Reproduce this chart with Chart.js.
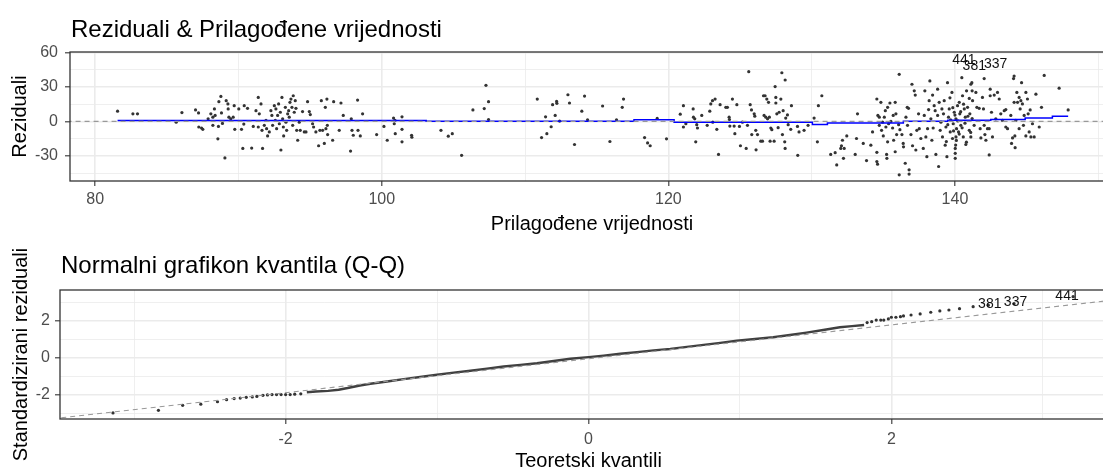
<!DOCTYPE html>
<html>
<head>
<meta charset="utf-8">
<title>Reziduali i Q-Q</title>
<script src="https://cdn.jsdelivr.net/npm/chart.js@4.4.1/dist/chart.umd.min.js"></script>
<style>
  html, body { margin: 0; padding: 0; background: #fff; width: 1103px; height: 469px; overflow: hidden; }
  canvas { position: absolute; left: 0; }
  #residChart { top: 0; }
  #qqChart { top: 240px; }
</style>
</head>
<body>
<canvas id="residChart" width="1130" height="240"></canvas>
<canvas id="qqChart" width="1130" height="232"></canvas>
<script>
const FONT = "'Liberation Sans', Arial, sans-serif";

// --- gornji panel: reziduali prema prilagodenim vrijednostima ---
const fittedValues = [
  81.56, 82.63, 82.95, 85.65, 86.05, 87.0, 87.21, 87.23, 87.42, 87.51,
  87.88, 88.07, 88.21, 88.32, 88.37, 88.56, 88.63, 88.77, 88.81, 88.21,
  88.6, 88.88, 89.05, 89.14, 89.26, 89.28, 89.33, 89.46, 89.63, 89.7,
  89.74, 90.02, 90.21, 90.3, 90.37, 90.4, 90.63,
  90.92, 91.03, 91.22, 91.38, 91.38, 91.45, 91.57, 91.64, 91.68, 91.8,
  91.92, 91.96, 92.03, 92.15, 92.26, 92.33, 92.38, 92.5, 92.57, 92.61,
  92.66, 92.73, 92.8, 92.85, 92.92, 92.96, 93.03, 93.08, 93.13, 93.15,
  93.27, 93.31, 93.36, 93.43, 93.5, 93.54, 93.59, 93.66, 93.73, 93.78,
  93.82, 93.89, 93.96, 94.01, 94.06, 94.13, 94.24, 94.31, 94.47, 94.59,
  94.71, 94.82, 94.94, 95.01, 95.17, 95.24, 95.4, 95.59, 95.68, 95.78,
  95.87, 95.99, 96.06, 96.1, 96.17, 96.2, 96.22, 96.57, 96.64, 97.03,
  97.15, 97.31, 97.82, 97.87, 97.92, 98.01, 98.31, 98.34, 98.5, 98.66,
  99.64, 100.15, 100.38, 100.82, 100.87, 100.92, 100.94, 101.41, 101.41, 101.41,
  102.08, 102.1,
  104.13, 104.64, 104.92, 105.57, 106.36, 107.15, 107.27, 107.45, 107.45, 110.85,
  111.15, 111.43, 111.52, 111.82, 111.92, 112.1, 112.2, 112.22, 112.41, 112.99,
  113.1, 113.45, 113.96, 114.15, 114.36, 115.41, 115.92, 116.38, 116.78, 116.87,
  118.34, 118.55, 118.73, 119.22, 119.87, 120.83,
  121.05, 121.05, 121.22, 121.73, 121.75, 121.84, 121.91, 121.98, 122.03, 122.33,
  122.71, 122.89, 122.96, 123.08, 123.1, 123.26, 123.38, 123.5, 123.61, 124.01,
  124.12, 124.24, 124.26, 124.29, 124.47, 124.59, 124.64, 124.78, 124.96, 125.03,
  125.17, 125.43, 125.52, 125.61, 125.71, 125.8, 125.82, 125.99, 126.03, 126.1,
  126.12, 126.22, 126.45, 126.57, 126.64, 126.75, 126.68, 126.8, 126.87, 126.92,
  126.99, 127.05, 127.1, 127.15, 127.22, 127.38, 127.45, 127.5, 127.5, 127.57,
  127.66, 127.73, 127.85, 127.92, 127.96, 128.01, 128.12, 128.15, 128.15, 128.19,
  128.31, 128.36, 128.54, 128.59, 129.01, 129.03, 129.12, 129.47, 129.75, 130.17,
  130.4, 130.47, 130.71, 131.33, 131.64, 131.75, 132.03, 132.08, 132.15, 132.22,
  132.27, 132.45,
  133.04, 133.13, 133.2, 133.6, 133.83, 134.13, 134.25, 134.55, 134.6, 134.55,
  134.55, 134.62, 134.72, 134.72, 134.83, 134.88, 134.95, 135.0, 135.07, 135.14,
  135.18, 135.23, 135.25, 135.3, 135.3, 135.37, 135.46, 135.53, 135.65, 135.69,
  135.72, 135.83, 135.83, 135.88, 135.93, 136.07, 136.11, 136.11, 136.16, 136.3,
  136.39, 136.41, 136.53, 136.58, 136.67, 136.76, 136.69, 136.8, 136.8, 136.93,
  137.0, 137.04, 137.16, 137.23, 137.27, 137.34, 137.46, 137.51, 137.62, 137.79,
  137.86, 137.9, 137.97, 138.04, 138.09, 138.16, 138.2, 138.25, 138.32, 138.39,
  138.44, 138.48, 138.55, 138.62, 138.67, 138.79, 138.79, 138.86, 138.9, 138.97,
  139.02, 139.09, 139.13, 139.2, 139.25, 139.32, 139.37, 139.44, 139.48, 139.55,
  139.6, 139.67, 139.79, 139.83, 139.88, 139.95, 140.02, 140.02, 140.02, 140.07,
  140.07, 140.11, 140.18, 140.25, 140.3, 140.34, 140.41, 140.48, 140.53, 140.58,
  140.65, 140.72, 140.76, 140.81, 140.88, 141.0, 141.04, 141.11, 141.18, 141.23,
  141.34, 139.5, 139.7, 139.9, 140.0, 140.1, 140.2, 140.3, 140.4, 140.5,
  140.6, 140.7, 140.8, 140.9, 141.0, 141.1, 141.2, 140.05, 139.85, 139.65,
  139.4,
  141.11, 141.2, 141.46, 141.53, 141.69, 141.76, 141.81, 141.92, 141.99, 142.04,
  142.04, 142.09, 142.16, 142.27, 142.39, 142.39, 142.46, 142.46, 142.55, 142.62,
  142.74, 142.85, 142.97, 143.09, 143.2, 143.32, 143.44, 143.55, 143.55, 143.67,
  143.9, 143.95, 144.02, 144.09, 144.13, 144.13, 144.18, 144.2, 144.25, 144.32,
  144.37, 144.48, 144.48, 144.55, 144.6, 144.65, 144.71, 144.78, 144.83, 144.95,
  144.95, 145.06, 145.11, 145.18, 145.25, 145.3, 145.41, 145.53, 145.65, 145.88,
  146.04, 146.23, 147.27, 147.9
];
const residuals = [
  8.9, 6.6, 6.6, -0.6, 7.7, 10.0, 7.4, -4.8, -5.7, -6.8,
  2.3, 6.6, 3.7, 10.9, 5.2, -15.1, 17.2, 21.7, 7.4, -3.4,
  -4.3, -1.7, -31.7, 18.0, 15.2, 10.9, 3.7, 2.3, 3.7, 13.7,
  -6.8, 10.9, -6.8, -23.4, -2.3, 13.7, 11.4,
  -23.1, -4.3, 9.4, 20.9, -4.8, 6.6, 15.2, -7.7, -23.4, -3.4,
  0.9, -6.3, -12.6, -9.1, 9.4, 5.2, -3.4, 13.7, 0.9, 10.9,
  -6.3, 5.2, 15.2, -2.0, 8.0, -24.8, 20.9, 2.3, -4.8, -12.6,
  12.3, -0.6, -7.7, 6.6, 9.4, 3.7, 16.6, 19.4, 12.3, -3.4,
  22.3, 8.0, 18.0, 11.4, -7.7, -16.3, -0.6, -7.7, 8.6, -9.1,
  -9.1, 17.2, 8.6, 6.0, -2.0, -4.8, -9.1, -21.1, -7.7, 18.0,
  -7.7, -19.1, 12.3, -6.3, 19.4, -3.4, -11.4, -16.3, 17.2, -7.7,
  16.0, 5.2, -25.7, 2.3, -7.7, -12.0, 18.6, -7.7, -12.6, 6.6,
  -11.4, -4.3, -16.3, 2.9, -2.0, 0.9, -10.6, 4.0, -6.8, -17.7,
  -12.0, -13.7,
  -7.7, -12.8, -10.6, -29.4, 10.0, 11.2, 31.4, 17.2, 1.7, 19.4,
  -14.0, 4.0, -10.6, -4.6, 14.6, 5.2, 17.4, 15.7, 0.3, 23.2,
  16.0, -20.0, 8.9, 22.0, 1.4, 13.4, -17.4, 1.4, 12.3, 19.4,
  -14.0, -18.6, -21.1, 2.6, -15.1, 6.3,
  13.7, -4.8, -2.0, 10.9, 3.7, 2.3, -17.7, -2.8, -5.7, 5.2,
  -3.4, 8.9, 15.2, 18.0, -0.6, 19.4, -6.8, -28.6, 14.6, 12.3,
  12.3, 3.7, 1.7, -4.0, 19.4, -4.0, -10.6, 14.6, -4.3, -21.1,
  -0.6, -23.4, -3.4, 43.2, 14.6, 10.0, -11.4, 6.6, 4.6, -7.7,
  -24.6, -11.4, -17.1, -17.1, 22.3, 22.3, 5.2, 3.7, 19.4, 2.3,
  16.6, 3.7, -17.1, -5.7, -7.1, -17.1, 30.3, 20.9, 16.0, 6.6,
  -5.4, 8.0, 19.4, 42.3, -11.4, 9.4, -17.7, 36.0, -23.4, 2.9,
  5.7, -2.8, -6.8, 13.7, -4.3, -29.4, -9.1, -7.7, -3.4, 2.9,
  -17.7, 13.7, 22.3, -28.6, -27.1, -37.7, -23.4, -21.1, -16.3, -32.0,
  -23.4, -12.6,
  -28.6, -14.8, 6.6, -19.1, -34.0, -20.6, -9.1, -34.8, -37.1, 19.5,
  -26.8, 5.2, 3.7, -3.4, 16.6, -7.7, -0.6, -12.6, 3.7, 9.4,
  -4.8, -28.6, -32.0, 12.3, -17.7, -2.0, 16.0, 0.0, -5.7, 5.2,
  -16.3, 16.6, -26.3, 6.6, -11.4, -2.8, -46.3, 40.9, -7.1, -11.4,
  -19.1, -22.0, -36.3, 3.7, 12.3, 11.4, -3.4, -45.7, -42.0, -11.4,
  32.3, -21.1, 26.6, 22.9, -24.8, -7.7, 6.6, -6.3, -14.8, -23.4,
  5.2, 26.6, -13.4, -30.6, -6.3, 10.3, 18.0, 35.2, 2.3, -16.3,
  22.9, -5.7, 13.7, 9.4, -28.6, 28.0, 5.2, -39.1, 16.6, -7.7,
  -0.6, 10.9, -13.4, 6.6, 18.0, -20.6, -4.8, -30.6, 33.7, 3.7,
  10.9, -9.1, 25.2, -14.8, -2.0, 8.0, -23.4, -27.7, -32.0, 2.3,
  -13.4, -6.3, 13.7, -9.1, 16.6, 6.6, -3.4, 38.0, 22.3, -13.4,
  10.9, 3.7, -20.0, 26.6, 12.3, -7.7, 6.6, -13.4, 33.7, 18.0,
  -3.4, -2.8, 1.4, -8.2, 5.5, -16.5, 0.5, -11.0, 8.5, -5.5,
  15.0, -1.5, -18.0, 4.5, 20.0, -9.5, 2.5, -20.5, 12.0, 20.5,
  -17.5,
  32.3, 26.6, 25.2, 12.3, 11.4, -6.3, -14.3, 20.9, 10.9, 37.2,
  -3.4, -11.4, -16.3, -6.3, -6.3, -29.1, 28.0, 22.3, 8.0, -13.4,
  22.9, 2.3, 25.2, 19.5, 6.6, 0.9, 9.4, 10.3, -4.8, -6.3,
  5.2, -19.1, -14.3, 37.2, 39.4, 16.6, -12.6, -22.8, 0.9, 25.2,
  16.6, 20.9, -6.3, 10.9, 18.0, 33.7, 15.2, -3.4, 5.2, 25.2,
  -12.6, 19.5, 6.6, -9.1, 10.0, -13.4, -2.0, -13.4, 23.7, -4.8,
  12.3, 40.0, 28.9, 10.0
];
const smoothX = [81.56, 103.1, 103.1, 117.6, 117.6, 120.4, 120.4, 130.05, 130.05, 131.1, 131.1,
  136.4, 136.4, 139.5, 139.5, 142.5, 142.5, 144.9, 144.9, 146.8, 146.8, 147.9];
const smoothY = [0.9, 0.9, 0.1, 0.1, 1.4, 1.4, -0.6, -0.6, -2.6, -2.6, -1.3,
  -1.3, 0.2, 0.2, 1.0, 1.0, 1.8, 1.8, 3.1, 3.1, 4.6, 4.6];
const zeroLineX = [78, 152];
const zeroLineY = [0, 0];
const residGridX = [80, 90, 100, 110, 120, 130, 140, 150];
const residTickX = [80, 100, 120, 140];
const residGridY = [-45, -30, -15, 0, 15, 30, 45, 60];
const residTickY = [-30, 0, 30, 60];

const pointIds = ["441", "381", "337"];
const residLabelX = [140.62, 141.35, 142.84];
const residLabelY = [52.9, 47.7, 49.4];

// --- donji panel: normalni Q-Q ---
const qqBandX = [-1.86, -1.8, -1.72, -1.65, -1.59, -1.51, -1.44, -1.33, -1.22, -1.1,
  -1.0, -0.89, -0.78, -0.67, -0.56, -0.45, -0.34, -0.23, -0.12, 0.0,
  0.1, 0.21, 0.32, 0.43, 0.54, 0.65, 0.76, 0.87, 0.98, 1.1,
  1.22, 1.33, 1.44, 1.55, 1.66, 1.74, 1.82];
const qqBandY = [-1.86, -1.82, -1.78, -1.72, -1.63, -1.49, -1.4, -1.28, -1.15, -1.02,
  -0.91, -0.8, -0.7, -0.58, -0.47, -0.38, -0.29, -0.17, -0.05, 0.04,
  0.12, 0.22, 0.31, 0.4, 0.48, 0.59, 0.7, 0.81, 0.93, 1.02,
  1.11, 1.23, 1.36, 1.5, 1.65, 1.71, 1.77];
const qqTailX = [-3.14, -2.84, -2.68, -2.56, -2.45, -2.39, -2.34, -2.3, -2.26, -2.22,
  -2.19, -2.15, -2.12, -2.09, -2.06, -2.03, -2.0, -1.97, -1.94, -1.9,
  1.84, 1.87, 1.9, 1.93, 1.95, 1.98, 2.0, 2.03, 2.06, 2.08,
  2.13, 2.19, 2.26, 2.32, 2.38, 2.45, 2.54, 2.64, 2.81, 3.2];
const qqTailY = [-2.97, -2.83, -2.56, -2.5, -2.37, -2.26, -2.2, -2.17, -2.13, -2.11,
  -2.08, -2.02, -2.0, -1.98, -1.98, -1.98, -1.98, -1.98, -1.96, -1.94,
  1.9, 1.95, 2.04, 2.04, 2.04, 2.1, 2.19, 2.19, 2.22, 2.26,
  2.31, 2.37, 2.46, 2.53, 2.58, 2.65, 2.76, 2.84, 2.92, 3.3];
const qqLineX = [-3.6, 3.6];
const qqLineY = [-3.34, 3.24];
const qqGrid = [-3, -2, -1, 0, 1, 2, 3];
const qqTicks = [-2, 0, 2];
const qqLabelX = [3.16, 2.65, 2.82];
const qqLabelY = [3.33, 2.9, 2.98];

function toPoints(xs, ys) {
  return xs.map((x, i) => ({ x, y: ys[i] }));
}

function makeAxis({ min, max, grid, major, title, size, tickPad, titlePad, vertical }) {
  const isMajor = ctx => ctx.tick && major.includes(ctx.tick.value);
  return {
    type: "linear",
    min,
    max,
    afterBuildTicks: scale => { scale.ticks = grid.map(v => ({ value: v })); },
    afterFit: scale => { if (vertical) scale.width = size; else scale.height = size; },
    ticks: {
      autoSkip: false,
      maxRotation: 0,
      padding: tickPad,
      color: "#4d4d4d",
      font: { family: FONT, size: 16 },
      callback: value => (major.includes(value) ? String(value) : "")
    },
    grid: {
      color: "#ebebeb",
      lineWidth: ctx => (isMajor(ctx) ? 1.6 : 0.8),
      tickLength: 5,
      tickWidth: 1.1,
      tickColor: ctx => (isMajor(ctx) ? "#333333" : "rgba(0,0,0,0)")
    },
    border: { display: false },
    title: {
      display: true,
      text: title,
      color: "#000",
      font: { family: FONT, size: 20, lineHeight: 1 },
      padding: titlePad
    }
  };
}

// naslov poravnat s panelom, okvir panela i oznake ekstremnih tocaka
const panelDecor = {
  id: "panelDecor",
  afterDatasetsDraw(chart, args, opts) {
    const { ctx, chartArea: a } = chart;
    const xs = chart.scales.x, ys = chart.scales.y;
    ctx.save();
    ctx.fillStyle = "#111";
    ctx.font = `14px ${FONT}`;
    ctx.textAlign = "center";
    ctx.textBaseline = "middle";
    opts.labelX.forEach((lx, i) => {
      ctx.fillText(pointIds[i], xs.getPixelForValue(lx), ys.getPixelForValue(opts.labelY[i]));
    });
    ctx.strokeStyle = "#333333";
    ctx.lineWidth = 1.3;
    ctx.strokeRect(a.left, a.top, a.right - a.left, a.bottom - a.top);
    ctx.fillStyle = "#000";
    ctx.font = `24px ${FONT}`;
    ctx.textAlign = "left";
    ctx.textBaseline = "alphabetic";
    ctx.fillText(opts.title, a.left + 1, a.top - opts.titleGap);
    ctx.restore();
  }
};

const baseOptions = {
  responsive: false,
  animation: false,
  events: [],
  plugins: { legend: { display: false }, tooltip: { enabled: false } }
};

new Chart(document.getElementById("residChart"), {
  type: "scatter",
  data: {
    datasets: [
      { data: toPoints(zeroLineX, zeroLineY), showLine: true, borderColor: "#999999", borderWidth: 1.3, borderDash: [5, 4], pointRadius: 0 },
      { data: toPoints(smoothX, smoothY), showLine: true, borderColor: "#0000ff", borderWidth: 1.5, pointRadius: 0 },
      { data: toPoints(fittedValues, residuals), pointRadius: 1.6, backgroundColor: "#333333", borderWidth: 0 }
    ]
  },
  options: {
    ...baseOptions,
    layout: { padding: { top: 52, right: 16, bottom: 0, left: 0 } },
    plugins: {
      ...baseOptions.plugins,
      panelDecor: { title: "Reziduali & Prilagođene vrijednosti", titleGap: 15, labelX: residLabelX, labelY: residLabelY }
    },
    scales: {
      x: makeAxis({ min: 78.24, max: 151.1, grid: residGridX, major: residTickX, title: "Prilagođene vrijednosti",
        size: 59, tickPad: 4, titlePad: { top: 0, bottom: 6 } }),
      y: makeAxis({ min: -51.7, max: 60.3, grid: residGridY, major: residTickY, title: "Reziduali",
        size: 70, tickPad: 7, titlePad: { top: 10, bottom: 0 }, vertical: true })
    }
  },
  plugins: [panelDecor]
});

new Chart(document.getElementById("qqChart"), {
  type: "scatter",
  data: {
    datasets: [
      { data: toPoints(qqLineX, qqLineY), showLine: true, borderColor: "#999999", borderWidth: 1.1, borderDash: [5, 4], pointRadius: 0 },
      { data: toPoints(qqTailX, qqTailY), pointRadius: 1.6, backgroundColor: "#333333", borderWidth: 0 },
      { data: toPoints(qqBandX, qqBandY), showLine: true, borderColor: "#404040", borderWidth: 2.4, pointRadius: 0 }
    ]
  },
  options: {
    ...baseOptions,
    layout: { padding: { top: 50, right: 13, bottom: 0, left: 0 } },
    plugins: {
      ...baseOptions.plugins,
      panelDecor: { title: "Normalni grafikon kvantila (Q-Q)", titleGap: 16.7, labelX: qqLabelX, labelY: qqLabelY }
    },
    scales: {
      x: makeAxis({ min: -3.49, max: 3.49, grid: qqGrid, major: qqTicks, title: "Teoretski kvantili",
        size: 53, tickPad: 6, titlePad: { top: 0, bottom: 1 } }),
      y: makeAxis({ min: -3.3, max: 3.66, grid: qqGrid, major: qqTicks, title: "Standardizirani reziduali",
        size: 60, tickPad: 5, titlePad: { top: 11, bottom: 0 }, vertical: true })
    }
  },
  plugins: [panelDecor]
});
</script>
</body>
</html>
